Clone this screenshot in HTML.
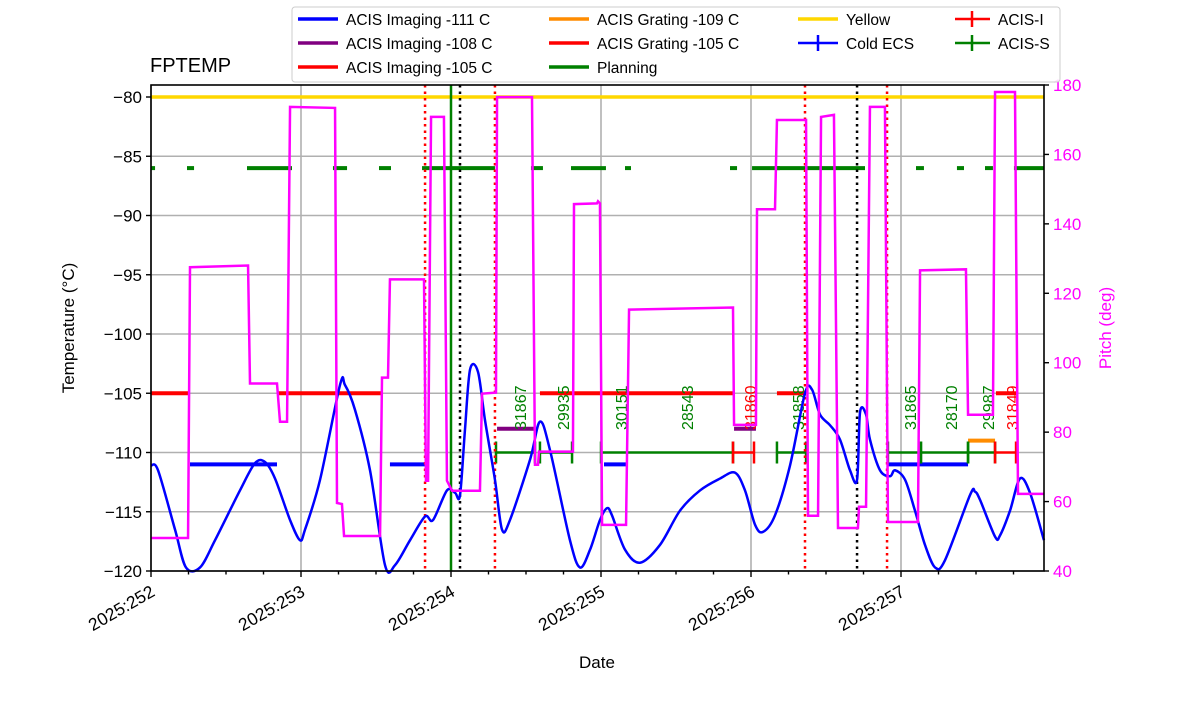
<!DOCTYPE html>
<html><head><meta charset="utf-8"><style>
body{margin:0;background:#fff;}
svg{font-family:"Liberation Sans","DejaVu Sans",sans-serif;}
</style></head><body>
<svg id="chart" width="1200" height="714" viewBox="0 0 1200 714" xmlns="http://www.w3.org/2000/svg">
<g id="grid"></g><g id="bands"></g><g id="series"></g><g id="axes"></g><g id="legend"></g>
</svg>
<script>
// ---- data (days since 2025:252, temperatures in C, pitch in deg) ----
const xTickLabels = ["2025:252","2025:253","2025:254","2025:255","2025:256","2025:257"];
const yTicks = [-120,-115,-110,-105,-100,-95,-90,-85,-80];
const pTicks = [40,60,80,100,120,140,160,180];
const tempT = [0,.047,.16,.233,.327,.427,.593,.693,.76,.827,.927,.993,1.027,1.127,1.26,1.293,1.36,1.46,1.56,1.627,1.727,1.827,1.88,1.973,2.027,2.06,2.093,2.127,2.18,2.227,2.293,2.34,2.393,2.527,2.593,2.66,2.793,2.86,2.927,2.993,3.04,3.073,3.16,3.26,3.393,3.527,3.66,3.793,3.893,3.96,4.027,4.08,4.16,4.26,4.36,4.407,4.46,4.527,4.593,4.66,4.707,4.727,4.767,4.793,4.86,4.927,4.96,5.027,5.093,5.16,5.227,5.293,5.46,5.493,5.527,5.627,5.66,5.727,5.793,5.86,5.953];
const tempV = [-111.1,-111.5,-116.5,-119.7,-119.7,-117.4,-113.2,-110.9,-110.8,-112.2,-115.7,-117.4,-116.5,-112.3,-104.3,-104.3,-106.4,-111.5,-119.5,-119.5,-117.4,-115.4,-115.7,-113.2,-113.4,-113.6,-108.1,-103.0,-103.2,-107.3,-112.3,-116.5,-115.7,-110.6,-107.4,-109.8,-117.4,-119.7,-118.2,-115.7,-114.7,-115.3,-118.2,-119.3,-117.8,-114.9,-113.2,-112.2,-111.7,-113.2,-116.1,-116.7,-115.3,-111.1,-105.0,-104.7,-106.8,-107.7,-108.9,-111.5,-112.3,-106.6,-106.8,-108.9,-111.5,-112.0,-111.5,-112.3,-114.9,-117.8,-119.7,-119.1,-113.6,-113.3,-114.0,-117.1,-117.0,-114.9,-112.2,-113.4,-117.4];
const pitchT = [0,.247,.26,.647,.66,.84,.86,.907,.927,1.227,1.24,1.273,1.287,1.527,1.54,1.58,1.593,1.82,1.833,1.847,1.867,1.953,1.973,2.007,2.193,2.207,2.3,2.307,2.54,2.56,2.58,2.587,2.813,2.82,2.973,2.98,2.993,3.007,3.167,3.187,3.88,3.887,4.033,4.04,4.16,4.173,4.367,4.38,4.447,4.467,4.553,4.58,4.713,4.72,4.767,4.793,4.893,4.913,5.113,5.127,5.433,5.447,5.613,5.627,5.76,5.78,5.953];
const pitchV = [49.5,49.5,127.5,128.0,94.0,94.0,83.0,83.0,173.7,173.4,59.6,59.3,50.1,50.1,95.7,95.7,124.0,124.0,66.0,66.0,170.8,170.8,66.0,63.1,63.1,91.1,91.4,176.5,176.5,70.6,70.6,74.4,74.4,145.7,145.9,146.5,145.9,53.3,53.3,115.3,115.9,82.1,82.1,144.2,144.2,169.9,169.9,55.9,55.9,170.8,171.4,52.4,52.4,58.5,58.5,173.7,173.7,54.1,54.1,126.6,126.9,85.0,85.0,178.0,178.0,62.2,62.2];
const planStart = [0,.24,.64,1.213,1.52,1.807,2.533,2.8,3.16,3.86,4.007,4.173,5.1,5.373,5.56,5.753];
const planEnd =   [.027,.287,.94,1.307,1.6,2.293,2.613,3.033,3.2,3.907,4.193,4.76,5.153,5.42,5.613,5.953];
const red105Start=[0,.847,2.593,4.173,5.633]; const red105End=[.26,1.533,3.88,4.367,5.767];
const blue111Start=[.26,1.593,3.02,4.913]; const blue111End=[.84,1.833,3.167,5.447];
const purpleStart=[2.307,3.887]; const purpleEnd=[2.553,4.033];
const orangeStart=[5.447]; const orangeEnd=[5.627];
const acisSStart=[2.3,2.593,3.0,4.173,4.913,5.133,5.447]; const acisSEnd=[2.56,2.807,3.88,4.367,5.133,5.447,5.627];
const acisIStart=[3.88,5.627]; const acisIEnd=[4.02,5.767];
const obsT=[2.46,2.747,3.133,3.573,3.993,4.313,5.06,5.333,5.58,5.74];
const obsId=["31867","29935","30151","28543","31860","31858","31865","28170","29987","31849"];
const obsRed=[0,0,0,0,1,0,0,0,0,1];
const redVl=[1.827,2.293,4.36,4.907]; const blackVl=[2.06,4.707]; const greenVl=[2.0];

const L=151,R=1044,T=85,B=571;
const X=d=>L+d*150;
const Y=v=>97+(-80-v)*11.85;
const P=p=>B-(p-40)*(B-T)/140;
const NS="http://www.w3.org/2000/svg";
function mk(parent,tag,attrs){const e=document.createElementNS(NS,tag);for(const k in attrs)e.setAttribute(k,attrs[k]);document.getElementById(parent).appendChild(e);return e;}

// grid
yTicks.forEach(v=>{const e=mk('grid','line',{x1:L,x2:R,y1:Y(v),y2:Y(v),stroke:'#b0b0b0','stroke-width':1.6});

});
xTickLabels.forEach((s,i)=>{const e=mk('grid','line',{x1:X(i),x2:X(i),y1:T,y2:B,stroke:'#b0b0b0','stroke-width':1.6});

});

// horizontal bands
function seg(starts,ends,v,color,w,name){starts.forEach((s,i)=>{const e=mk('bands','line',{x1:X(s),x2:X(ends[i]),y1:Y(v),y2:Y(v),stroke:color,'stroke-width':w});

});}
const yl=mk('bands','line',{x1:L,x2:R,y1:Y(-80),y2:Y(-80),stroke:'#ffd700','stroke-width':3.5});


seg(planStart,planEnd,-86,'green',4,'planning-limit-segment');
seg(red105Start,red105End,-105,'red',4,'acis-imaging-105-segment');
seg(blue111Start,blue111End,-111,'blue',4,'acis-imaging-111-segment');
seg(purpleStart,purpleEnd,-108,'purple',4,'acis-imaging-108-segment');
seg(orangeStart,orangeEnd,-109,'darkorange',4,'acis-grating-109-segment');
function eb(starts,ends,color,name){starts.forEach((s,i)=>{const g=mk('bands','g',{});


const y=Y(-110);[[X(s),y,X(ends[i]),y],[X(s),y-11,X(s),y+11],[X(ends[i]),y-11,X(ends[i]),y+11]].forEach(c=>{const l=document.createElementNS(NS,'line');l.setAttribute('x1',c[0]);l.setAttribute('y1',c[1]);l.setAttribute('x2',c[2]);l.setAttribute('y2',c[3]);l.setAttribute('stroke',color);l.setAttribute('stroke-width',2.5);g.appendChild(l);});});}
eb(acisSStart,acisSEnd,'green','acis-s-interval');
eb(acisIStart,acisIEnd,'red','acis-i-interval');
obsT.forEach((t,i)=>{const e=mk('bands','text',{transform:`translate(${X(t)+6},430) rotate(-90)`,fill:obsRed[i]?'red':'green','font-size':16});e.textContent=obsId[i];

});

// vertical markers
redVl.forEach(t=>{const e=mk('series','line',{x1:X(t),x2:X(t),y1:T,y2:B,stroke:'red','stroke-width':2.5,'stroke-dasharray':'2.5 4'});

});
blackVl.forEach(t=>{const e=mk('series','line',{x1:X(t),x2:X(t),y1:T,y2:B,stroke:'black','stroke-width':2.5,'stroke-dasharray':'2.5 4'});

});
greenVl.forEach(t=>{const e=mk('series','line',{x1:X(t),x2:X(t),y1:T,y2:B,stroke:'green','stroke-width':2.5});

});

// series: smooth temperature curve (catmull-rom through points)
const pts=tempT.map((t,i)=>[X(t),Y(tempV[i])]);
let d='M'+pts[0][0]+','+pts[0][1];
for(let i=0;i<pts.length-1;i++){const p0=pts[Math.max(0,i-1)],p1=pts[i],p2=pts[i+1],p3=pts[Math.min(pts.length-1,i+2)];
const k=0.16;
d+=` C${p1[0]+(p2[0]-p0[0])*k},${p1[1]+(p2[1]-p0[1])*k} ${p2[0]-(p3[0]-p1[0])*k},${p2[1]-(p3[1]-p1[1])*k} ${p2[0]},${p2[1]}`;}
const tp=mk('series','path',{d:d,fill:'none',stroke:'blue','stroke-width':2.5});


const pp=mk('series','polyline',{points:pitchT.map((t,i)=>X(t)+','+P(pitchV[i])).join(' '),fill:'none',stroke:'magenta','stroke-width':2.5});



// axes
const fr=mk('axes','rect',{x:L,y:T,width:R-L,height:B-T,fill:'none',stroke:'black','stroke-width':1.6});


yTicks.forEach(v=>{mk('axes','line',{x1:L-5,x2:L,y1:Y(v),y2:Y(v),stroke:'black','stroke-width':1.4});
const e=mk('axes','text',{x:L-9,y:Y(v)+6,'text-anchor':'end','font-size':17});e.textContent=v<0?'\u2212'+(-v):v;

});
pTicks.forEach(v=>{mk('axes','line',{x1:R,x2:R+5,y1:P(v),y2:P(v),stroke:'black','stroke-width':1.4});
const e=mk('axes','text',{x:R+9,y:P(v)+6,'font-size':17,fill:'magenta'});e.textContent=v;

});
for(let q=0;q<=23;q++){const x=X(q/4);if(x>R)break;mk('axes','line',{x1:x,x2:x,y1:B,y2:B+(q%4?3.5:6),stroke:'black','stroke-width':1.4});}
xTickLabels.forEach((s,i)=>{const e=mk('axes','text',{transform:`translate(${X(i)+5},${B+24}) rotate(-30)`,'text-anchor':'end','font-size':17.5});e.textContent=s;

});
</script>
<svg style="position:absolute;left:0;top:0" width="1200" height="714">
<text x="150" y="72" font-size="20" font-family="Liberation Sans, sans-serif">FPTEMP</text>
<text x="597" y="668" font-size="17" text-anchor="middle" font-family="Liberation Sans, sans-serif">Date</text>
<text transform="translate(74,328) rotate(-90)" font-size="17" text-anchor="middle" font-family="Liberation Sans, sans-serif">Temperature (<tspan>°</tspan>C)</text>
<text transform="translate(1111,328) rotate(-90)" font-size="17" fill="magenta" text-anchor="middle" font-family="Liberation Sans, sans-serif">Pitch (deg)</text>
<g font-family="Liberation Sans, sans-serif" font-size="15.5">
<rect x="292" y="7" width="768" height="75" fill="#fff" fill-opacity="0.85" stroke="#ccc" rx="3"/>
<line x1="298" x2="338" y1="19" y2="19" stroke="blue" stroke-width="3.5"/><text x="346" y="25">ACIS Imaging -111 C</text>
<line x1="298" x2="338" y1="43" y2="43" stroke="purple" stroke-width="3.5"/><text x="346" y="49">ACIS Imaging -108 C</text>
<line x1="298" x2="338" y1="67" y2="67" stroke="red" stroke-width="3.5"/><text x="346" y="73">ACIS Imaging -105 C</text>
<line x1="549" x2="589" y1="19" y2="19" stroke="darkorange" stroke-width="3.5"/><text x="597" y="25">ACIS Grating -109 C</text>
<line x1="549" x2="589" y1="43" y2="43" stroke="red" stroke-width="3.5"/><text x="597" y="49">ACIS Grating -105 C</text>
<line x1="549" x2="589" y1="67" y2="67" stroke="green" stroke-width="3.5"/><text x="597" y="73">Planning</text>
<line x1="798" x2="838" y1="19" y2="19" stroke="#ffd700" stroke-width="3.5"/><text x="846" y="25">Yellow</text>
<line x1="798" x2="838" y1="43" y2="43" stroke="blue" stroke-width="2.5"/><line x1="818" x2="818" y1="35" y2="51" stroke="blue" stroke-width="2.5"/><text x="846" y="49">Cold ECS</text>
<line x1="955" x2="990" y1="19" y2="19" stroke="red" stroke-width="2.5"/><line x1="972" x2="972" y1="11" y2="27" stroke="red" stroke-width="2.5"/><text x="998" y="25">ACIS-I</text>
<line x1="955" x2="990" y1="43" y2="43" stroke="green" stroke-width="2.5"/><line x1="972" x2="972" y1="35" y2="51" stroke="green" stroke-width="2.5"/><text x="998" y="49">ACIS-S</text>
</g>
</svg>
</body></html>
